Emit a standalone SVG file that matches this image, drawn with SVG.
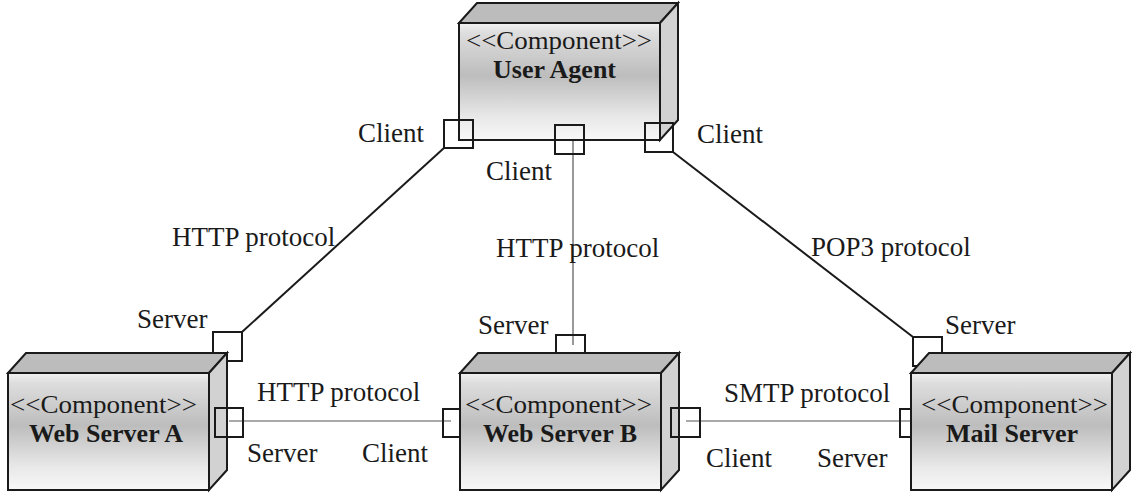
<svg xmlns="http://www.w3.org/2000/svg" xmlns:xlink="http://www.w3.org/1999/xlink" width="1133" height="493" viewBox="0 0 1133 493">
<style>
text{font-family:"Liberation Serif","Times New Roman",serif;font-size:27px;fill:#1a1a1a}
.n{font-size:25px}
.b{font-weight:bold;font-size:26px}
.edge{stroke:#1a1a1a;stroke-width:2;stroke-linejoin:miter}
.port{fill:none;stroke:#1a1a1a;stroke-width:2}
.thick{stroke:#1a1a1a;stroke-width:2;fill:none}
.thin{stroke:#555;stroke-width:1.2;fill:none}
</style>
<defs>
<linearGradient id="front" x1="0" y1="0" x2="0" y2="1">
<stop offset="0" stop-color="#f2f2f2"/>
<stop offset="0.08" stop-color="#dedede"/>
<stop offset="0.45" stop-color="#bdbdbd"/>
<stop offset="0.8" stop-color="#e8e8e8"/>
<stop offset="1" stop-color="#f8f8f8"/>
</linearGradient>
<g id="box">
<polygon class="edge" points="0,0 18,-20 219,-20 201,0" fill="#bcbcbc"/>
<polygon class="edge" points="201,0 219,-20 219,97 201,117" fill="#d2d2d2"/>
<rect class="edge" x="0" y="0" width="201" height="117" fill="url(#front)"/>
</g>
</defs>

<g id="connectors">
<line class="thick" x1="444" y1="148" x2="242" y2="332"/>
<line class="thin" x1="573" y1="140" x2="573" y2="345"/>
<line class="thick" x1="673" y1="152" x2="913" y2="337"/>
<line class="thin" x1="229" y1="421" x2="451" y2="421"/>
<line class="thin" x1="686" y1="421" x2="915" y2="421"/>
</g>

<g id="user-agent">
<use xlink:href="#box" x="459" y="23"/>
<text class="n" x="466" y="49" textLength="186" lengthAdjust="spacingAndGlyphs">&lt;&lt;Component&gt;&gt;</text>
<text class="b" x="493" y="78">User Agent</text>
<rect class="port" x="444" y="120" width="29" height="28"/>
<rect class="port" x="555" y="125" width="29" height="29"/>
<rect class="port" x="645" y="123" width="28" height="29"/>
</g>

<g id="web-server-a">
<rect class="port" x="213" y="332" width="29" height="29"/>
<use xlink:href="#box" x="8" y="373"/>
<text class="n" x="10" y="413" textLength="187" lengthAdjust="spacingAndGlyphs">&lt;&lt;Component&gt;&gt;</text>
<text class="b" x="29" y="442">Web Server A</text>
<rect class="port" x="215" y="408" width="28" height="29"/>
</g>

<g id="web-server-b">
<rect class="port" x="556" y="335" width="29" height="29"/>
<use xlink:href="#box" x="460" y="373"/>
<text class="n" x="465" y="413" textLength="187" lengthAdjust="spacingAndGlyphs">&lt;&lt;Component&gt;&gt;</text>
<text class="b" x="483" y="442">Web Server B</text>
<path class="port" d="M460,409 H443 V437 H460"/>
<rect class="port" x="671" y="408" width="29" height="29"/>
</g>

<g id="mail-server">
<rect class="port" x="913" y="337" width="29" height="29"/>
<use xlink:href="#box" x="911" y="373"/>
<text class="n" x="921" y="413" textLength="187" lengthAdjust="spacingAndGlyphs">&lt;&lt;Component&gt;&gt;</text>
<text class="b" x="946" y="442">Mail Server</text>
<path class="port" d="M911,409 H900 V437 H911"/>
</g>

<g id="labels">
<text x="358" y="142">Client</text>
<text x="486" y="180">Client</text>
<text x="697" y="143">Client</text>
<text x="172" y="246">HTTP protocol</text>
<text x="496" y="257">HTTP protocol</text>
<text x="811" y="256">POP3 protocol</text>
<text x="137" y="328">Server</text>
<text x="478" y="334">Server</text>
<text x="945" y="334">Server</text>
<text x="257" y="401">HTTP protocol</text>
<text x="724" y="402">SMTP protocol</text>
<text x="247" y="462">Server</text>
<text x="362" y="462">Client</text>
<text x="706" y="467">Client</text>
<text x="817" y="467">Server</text>
</g>
</svg>
